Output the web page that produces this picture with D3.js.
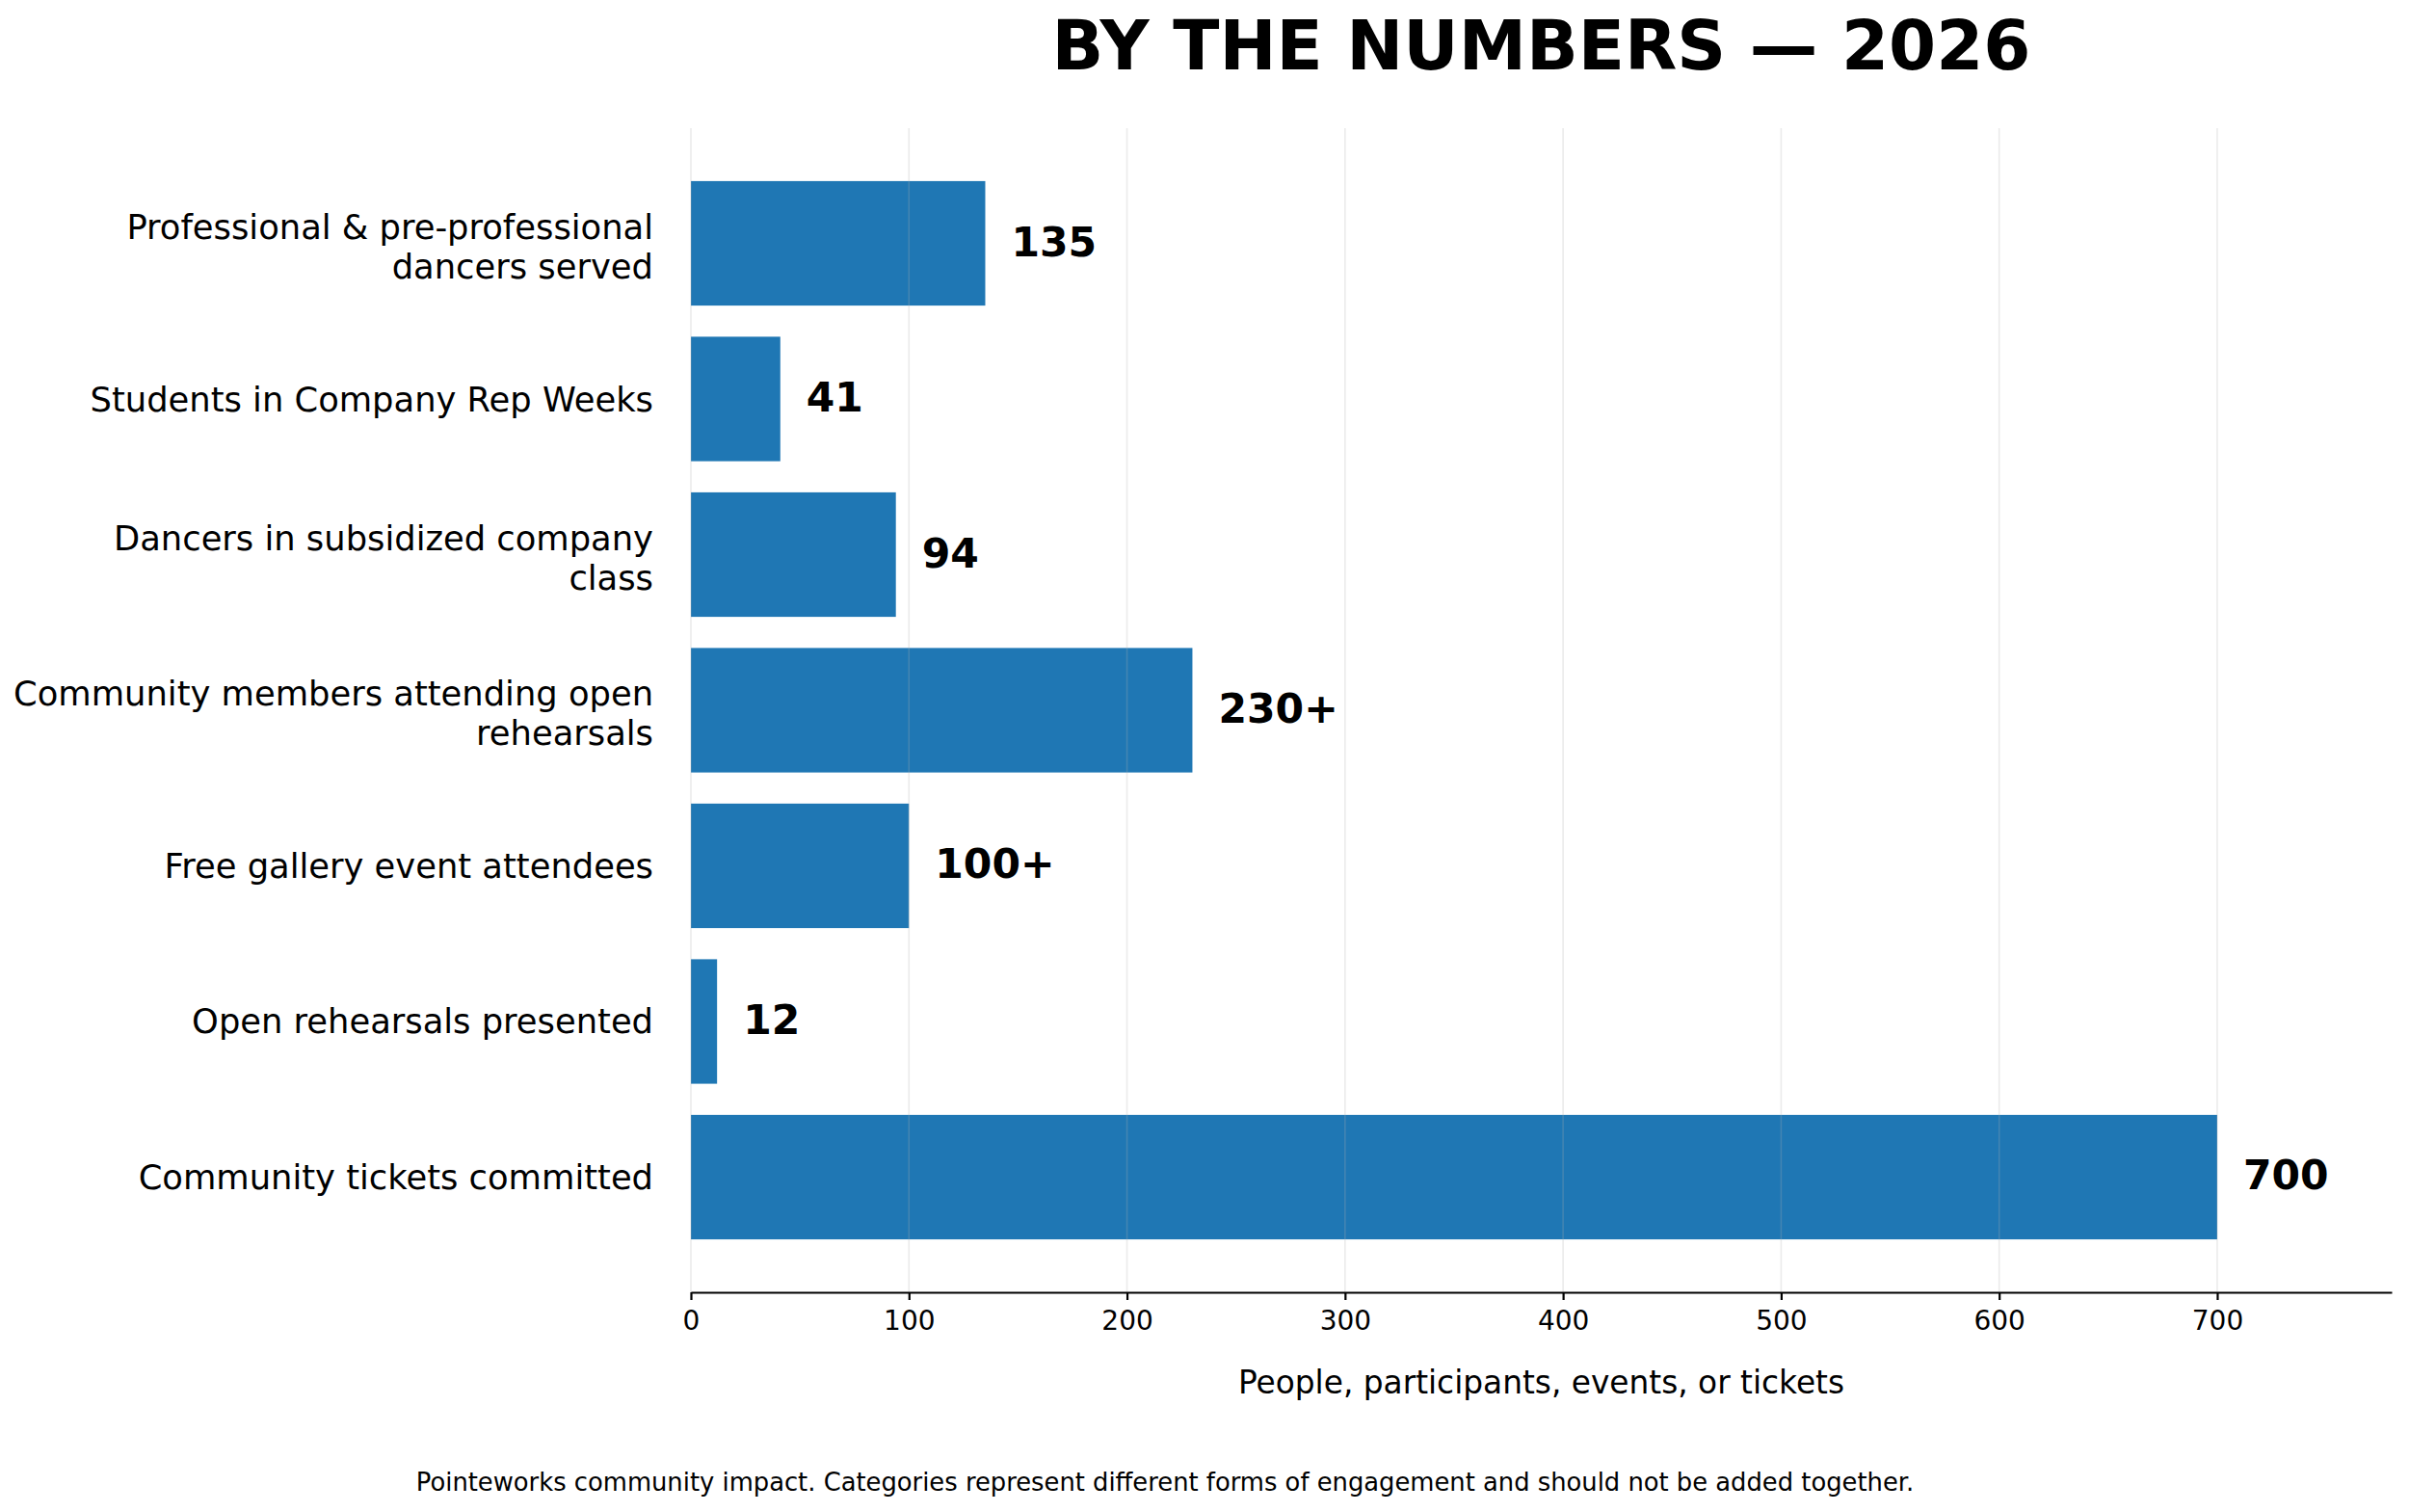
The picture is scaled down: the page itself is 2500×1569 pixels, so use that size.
<!DOCTYPE html>
<html>
<head>
<meta charset="utf-8">
<script src="https://cdn.jsdelivr.net/npm/d3@7"></script>
<style>
  body { margin: 0; background: #fff; }
  svg { display: block; font-family: "DejaVu Sans", sans-serif; }
</style>
</head>
<body>
<svg id="chart"></svg>
<script>
// data
const categories = [
    'Professional & pre-professional\ndancers served',
    'Students in Company Rep Weeks',
    'Dancers in subsidized company\nclass',
    'Community members attending open\nrehearsals',
    'Free gallery event attendees',
    'Open rehearsals presented',
    'Community tickets committed'
];
const values = [135, 41, 94, 230, 100, 12, 700];
const valueLabels = ['135', '41', '94', '230+', '100+', '12', '700'];
const xTicks = [0, 100, 200, 300, 400, 500, 600, 700];

const titleText = 'BY THE NUMBERS \u2014 2026';
const xLabelText = 'People, participants, events, or tickets';
const noteText = 'Pointeworks community impact. Categories represent different forms of engagement and should not be added together.';

class HBarChart {

    constructor(_config) {
        this.config = {
            parentElement: _config.parentElement,
            containerWidth: _config.containerWidth || 2500,
            containerHeight: _config.containerHeight || 1569,
            margin: _config.margin || {top: 133, right: 18, bottom: 228, left: 717}
        };
        this.data = categories.map((c, i) => ({cat: c, value: values[i], label: valueLabels[i]}));
        this.initVis();
    }

    initVis() {
        let vis = this;
        vis.width = vis.config.containerWidth - vis.config.margin.left - vis.config.margin.right;
        vis.height = vis.config.containerHeight - vis.config.margin.top - vis.config.margin.bottom;

        vis.xScale = d3.scaleLinear()
            .domain([0, 780])
            .range([0, vis.width]);

        vis.yScale = d3.scaleBand()
            .domain(categories)
            .range([0, vis.height])
            .paddingInner(0.2)
            .paddingOuter(0.34);

        vis.xAxis = d3.axisBottom(vis.xScale)
            .tickValues(xTicks)
            .tickFormat(d3.format('d'))
            .tickSize(8)
            .tickPadding(11)
            .tickSizeOuter(0);

        vis.svg = d3.select(vis.config.parentElement)
            .attr('width', vis.config.containerWidth)
            .attr('height', vis.config.containerHeight);

        vis.chart = vis.svg.append('g')
            .attr('transform', `translate(${vis.config.margin.left},${vis.config.margin.top})`);

        vis.updateVis();
    }

    updateVis() {
        let vis = this;

        // bars
        vis.chart.selectAll('.bar')
            .data(vis.data)
            .enter()
          .append('rect')
            .attr('class', 'bar')
            .attr('x', 0)
            .attr('y', d => vis.yScale(d.cat))
            .attr('width', d => vis.xScale(d.value))
            .attr('height', vis.yScale.bandwidth())
            .attr('fill', '#1f77b4');

        // faint vertical grid, drawn over the bars like the reference
        vis.chart.selectAll('.grid')
            .data(xTicks)
            .enter()
          .append('line')
            .attr('class', 'grid')
            .attr('x1', d => vis.xScale(d))
            .attr('x2', d => vis.xScale(d))
            .attr('y1', 0)
            .attr('y2', vis.height)
            .attr('stroke', '#b0b0b0')
            .attr('stroke-opacity', 0.25)
            .attr('stroke-width', 1.6);

        // value labels
        vis.chart.selectAll('.val')
            .data(vis.data)
            .enter()
          .append('text')
            .attr('class', 'val')
            .attr('x', d => vis.xScale(d.value) + 27)
            .attr('y', d => vis.yScale(d.cat) + vis.yScale.bandwidth() / 2 + 13)
            .attr('font-size', 42.5)
            .attr('font-weight', 'bold')
            .attr('fill', '#000')
            .text(d => d.label);

        // category labels (multi-line)
        const lineH = 41;
        vis.chart.selectAll('.cat')
            .data(vis.data)
            .enter()
          .append('text')
            .attr('class', 'cat')
            .attr('text-anchor', 'end')
            .attr('font-size', 35.3)
            .attr('fill', '#000')
            .each(function(d) {
                const lines = d.cat.split('\n');
                const cy = vis.yScale(d.cat) + vis.yScale.bandwidth() / 2;
                const base = cy + 12.5 - (lines.length - 1) * lineH / 2 + (lines.length > 1 ? 3 : 0);
                lines.forEach((ln, i) => {
                    d3.select(this).append('tspan')
                        .attr('x', -39)
                        .attr('y', base + i * lineH)
                        .text(ln);
                });
            });

        // x axis
        vis.xAxisG = vis.chart.append('g')
            .attr('class', 'axis x-axis')
            .attr('transform', `translate(0,${vis.height})`)
            .call(vis.xAxis);
        vis.xAxisG.select('.domain').attr('stroke', '#000').attr('stroke-width', 2.2);
        vis.xAxisG.selectAll('.tick line').attr('stroke', '#000').attr('stroke-width', 2.2);
        vis.xAxisG.selectAll('.tick text')
            .attr('font-size', 28)
            .attr('font-family', '"DejaVu Sans", sans-serif')
            .attr('fill', '#000');

        // axis label
        vis.svg.append('text')
            .attr('x', vis.config.margin.left + vis.width / 2)
            .attr('y', 1446)
            .attr('text-anchor', 'middle')
            .attr('font-size', 32.8)
            .text(xLabelText);

        // title
        vis.svg.append('text')
            .attr('x', vis.config.margin.left + vis.width / 2)
            .attr('y', 72)
            .attr('text-anchor', 'middle')
            .attr('font-size', 70.6)
            .attr('font-weight', 'bold')
            .text(titleText);

        // footnote
        vis.svg.append('text')
            .attr('x', 1209)
            .attr('y', 1547)
            .attr('text-anchor', 'middle')
            .attr('font-size', 25.8)
            .text(noteText);
    }
}

new HBarChart({parentElement: '#chart'});
</script>
</body>
</html>
